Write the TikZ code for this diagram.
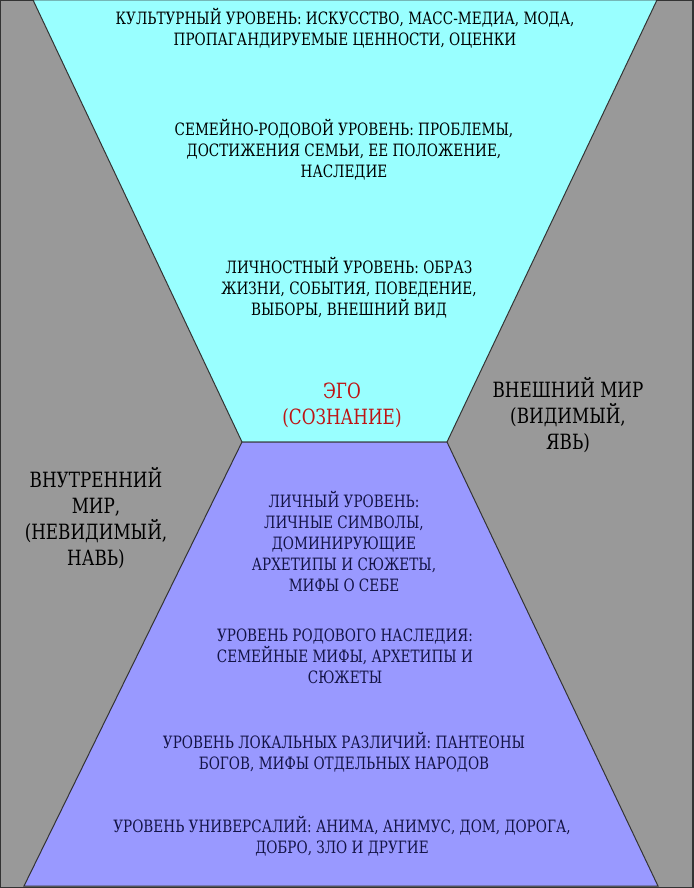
\documentclass[tikz,border=0pt]{standalone}
\usepackage{fontspec}
\setmainfont{DejaVu Serif}
\begin{document}
\begin{tikzpicture}[x=1pt,y=-1pt,
  txt/.style={align=center,font=\fontsize{17}{21}\selectfont,inner sep=0pt,xscale=0.8,transform shape},
  big/.style={align=center,font=\fontsize{21}{26}\selectfont,inner sep=0pt,xscale=0.8,transform shape}]
\useasboundingbox (0,0) rectangle (693,888);
\fill[gray!80!white,draw=black!80,line width=1.5pt] (0,0) rectangle (693,888);
\fill[fill={rgb,255:red,153;green,255;blue,255},draw=black!80,line width=1pt]
  (33,0) -- (657,0) -- (447,442) -- (242,442) -- cycle;
\fill[fill={rgb,255:red,153;green,153;blue,255},draw=black!80,line width=1pt]
  (242,442) -- (447,442) -- (658,886) -- (24,886) -- cycle;
\node[txt] (c1) at (345,28) {КУЛЬТУРНЫЙ УРОВЕНЬ: ИСКУССТВО, МАСС-МЕДИА, МОДА,\\ПРОПАГАНДИРУЕМЫЕ ЦЕННОСТИ, ОЦЕНКИ};
\node[txt] (c2) at (344,150) {СЕМЕЙНО-РОДОВОЙ УРОВЕНЬ: ПРОБЛЕМЫ,\\ДОСТИЖЕНИЯ СЕМЬИ, ЕЕ ПОЛОЖЕНИЕ,\\НАСЛЕДИЕ};
\node[txt] (c3) at (349,288) {ЛИЧНОСТНЫЙ УРОВЕНЬ: ОБРАЗ\\ЖИЗНИ, СОБЫТИЯ, ПОВЕДЕНИЕ,\\ВЫБОРЫ, ВНЕШНИЙ ВИД};
\node[big,text={rgb,255:red,190;green,20;blue,20}] (ego) at (342,405) {ЭГО\\(СОЗНАНИЕ)};
\node[big] (out) at (568,415) {ВНЕШНИЙ МИР\\(ВИДИМЫЙ,\\ЯВЬ)};
\node[big] (in) at (96,518) {ВНУТРЕННИЙ\\МИР,\\(НЕВИДИМЫЙ,\\НАВЬ)};
\begin{scope}[every node/.append style={text={rgb,255:red,20;green,20;blue,70}}]
\node[txt] (p1) at (344,541) {ЛИЧНЫЙ УРОВЕНЬ:\\ЛИЧНЫЕ СИМВОЛЫ,\\ДОМИНИРУЮЩИЕ\\АРХЕТИПЫ И СЮЖЕТЫ,\\МИФЫ О СЕБЕ};
\node[txt] (p2) at (345,656) {УРОВЕНЬ РОДОВОГО НАСЛЕДИЯ:\\СЕМЕЙНЫЕ МИФЫ, АРХЕТИПЫ И\\СЮЖЕТЫ};
\node[txt] (p3) at (344,752) {УРОВЕНЬ ЛОКАЛЬНЫХ РАЗЛИЧИЙ: ПАНТЕОНЫ\\БОГОВ, МИФЫ ОТДЕЛЬНЫХ НАРОДОВ};
\node[txt] (p4) at (342,836) {УРОВЕНЬ УНИВЕРСАЛИЙ: АНИМА, АНИМУС, ДОМ, ДОРОГА,\\ДОБРО, ЗЛО И ДРУГИЕ};
\end{scope}
\end{tikzpicture}
\end{document}
